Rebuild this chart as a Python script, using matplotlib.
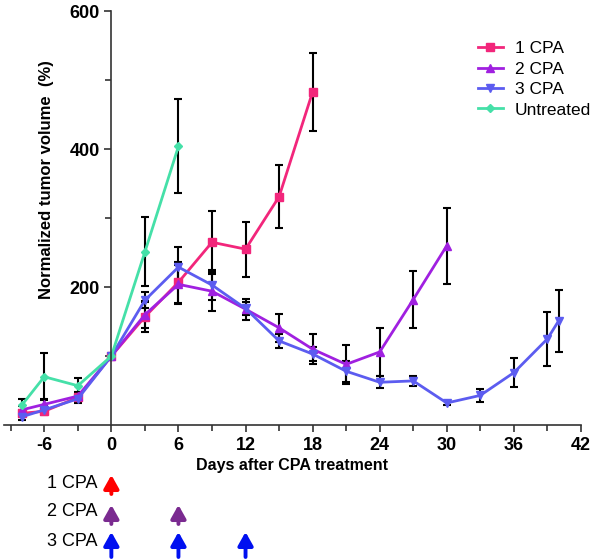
import numpy as np
import matplotlib
matplotlib.use('Agg')
import matplotlib.pyplot as plt
import matplotlib.transforms as mtransforms

plt.rcParams['font.family'] = ['Liberation Sans', 'DejaVu Sans']
plt.rcParams['axes.unicode_minus'] = False

# days and normalized volumes (%)
days_untreated = [-8, -6, -3, 0, 3, 6]
vol_untreated = [29, 70, 57, 100, 251, 404]
err_untreated = [9, 34, 11, 0, 50, 68]

days_1cpa = [-8, -6, -3, 0, 3, 6, 9, 12, 15, 18]
vol_1cpa = [17, 20, 40, 100, 157, 207, 265, 255, 331, 483]
err_1cpa = [5, 6, 6, 0, 22, 30, 46, 40, 46, 57]

days_2cpa = [-8, -6, -3, 0, 3, 6, 9, 12, 15, 18, 21, 24, 27, 30]
vol_2cpa = [22, 30, 42, 100, 160, 204, 194, 168, 141, 110, 88, 106, 182, 260]
err_2cpa = [5, 8, 6, 0, 20, 28, 28, 15, 20, 22, 28, 35, 41, 55]

days_3cpa = [-8, -6, -3, 0, 3, 6, 9, 12, 15, 18, 21, 24, 27, 30, 33, 36, 39, 40]
vol_3cpa = [12, 22, 38, 100, 181, 229, 203, 169, 122, 103, 78, 62, 64, 32, 43, 76, 125, 151]
err_3cpa = [4, 6, 6, 0, 12, 29, 22, 10, 10, 10, 15, 9, 7, 3, 9, 21, 39, 45]

series = [
    ('1 CPA', days_1cpa, vol_1cpa, err_1cpa, '#F2267B', 's', 6),
    ('2 CPA', days_2cpa, vol_2cpa, err_2cpa, '#A020E0', '^', 6),
    ('3 CPA', days_3cpa, vol_3cpa, err_3cpa, '#5C5CF0', 'v', 6),
    ('Untreated', days_untreated, vol_untreated, err_untreated, '#45E0A8', 'D', 4),
]

# dosing schedule shown under the axis
dose_groups = ['1 CPA', '2 CPA', '3 CPA']
dose_days = [[0], [0, 6], [0, 6, 12]]
dose_colors = ['#FF0000', '#7A2A90', '#0010F0']

fig = plt.figure(figsize=(6, 5.6), dpi=100)
ax = fig.add_axes([0.0067, 0.241, 0.9616, 0.739])

for label, d, v, e, c, m, ms in series:
    ax.errorbar(d, v, yerr=e, fmt='none', ecolor='black', elinewidth=1.5,
                capsize=3, capthick=1.5, zorder=1)
    ax.plot(d, v, color=c, marker=m, markersize=ms, lw=2, label=label, zorder=2)

ax.set_xlim(-9.6, 42)
ax.set_ylim(0, 600)
ax.spines['left'].set_position(('data', 0))
ax.spines['top'].set_visible(False)
ax.spines['right'].set_visible(False)
for s in ['left', 'bottom']:
    ax.spines[s].set_color('#333333')
    ax.spines[s].set_linewidth(1.2)

ax.set_xticks([-6, 0, 6, 12, 18, 24, 30, 36, 42])
ax.set_xticks(np.arange(-9, 42, 3), minor=True)
ax.set_yticks([200, 400, 600])
ax.set_yticks([100, 300, 500], minor=True)
ax.tick_params(axis='both', which='major', labelsize=13, length=5, width=1.2, color='#333333')
ax.tick_params(axis='both', which='minor', length=4, width=1.2, color='#333333')
for t in ax.get_xticklabels() + ax.get_yticklabels():
    t.set_fontweight('bold')

fig.text(0.077, 0.68, 'Normalized tumor volume  (%)', rotation=90, fontsize=12,
         fontweight='bold', ha='center', va='center')
ax.set_xlabel('Days after CPA treatment', fontsize=11.5, fontweight='bold', labelpad=3)

leg = ax.legend(loc='upper left', bbox_to_anchor=(0.795, 0.965), frameon=False,
                fontsize=12.5, handlelength=1.4, handletextpad=0.7, labelspacing=0.3)

trans = mtransforms.blended_transform_factory(ax.transData, fig.transFigure)
text_y = [483, 512, 542]
arrow_top = [475, 505, 532]
arrow_bot = [494, 524, 557]
for g, dd, c, ty, at, ab in zip(dose_groups, dose_days, dose_colors, text_y, arrow_top, arrow_bot):
    fig.text(0.162, 1 - ty / 560, g, fontsize=13, ha='right', va='center')
    for d in dd:
        ax.annotate('', xy=(d, 1 - at / 560), xytext=(d, 1 - ab / 560), xycoords=trans,
                    textcoords=trans, annotation_clip=False,
                    arrowprops=dict(arrowstyle='-|>,head_length=0.8,head_width=0.45',
                                    color=c, lw=2.8, shrinkA=0, shrinkB=0))

fig.savefig('out.png', dpi=100)
